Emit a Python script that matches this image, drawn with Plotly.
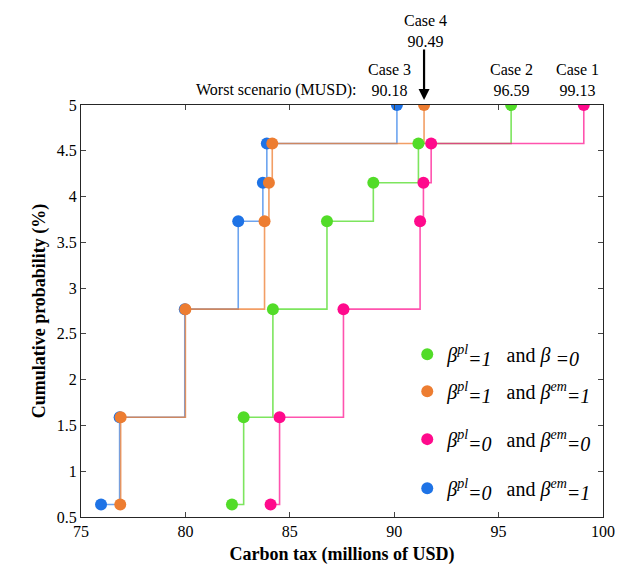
import plotly.graph_objects as go

# ---- data ----
cum_prob = [0.636, 1.59, 2.77, 3.73, 4.15, 4.58, 5.0]

case1_tax = [84.08, 84.51, 87.57, 91.24, 91.40, 91.77, 99.08]   # magenta
case2_tax = [82.23, 82.79, 84.19, 86.78, 89.00, 91.16, 95.60]   # green
case3_tax = [75.96, 76.85, 79.97, 82.53, 83.71, 83.90, 90.13]   # blue
case4_tax = [76.88, 76.90, 80.00, 83.79, 84.00, 84.16, 91.43]   # orange

case_names = ["Case 1", "Case 2", "Case 3", "Case 4"]
worst_labels = ["99.13", "96.59", "90.18", "90.49"]

x_ticks = [75, 80, 85, 90, 95, 100]
y_ticks = [0.5, 1, 1.5, 2, 2.5, 3, 3.5, 4, 4.5, 5]

FONT = "Liberation Serif, Times New Roman, serif"


def sub_full(t):
    return f'<sub><span style="font-size:20px"><i>{t}</i></span></sub>'


B = "<i>β</i>"
series = [
    # (x values, marker colour, line colour, legend label, legend id)
    (case3_tax, "#1E73E6", "rgba(30,115,230,0.65)",
     f"{B}<sup><i>pl</i></sup>{sub_full('=0')}   and {B}<sup><i>em</i></sup>{sub_full('=1')}", "legend4"),
    (case4_tax, "#ED7D31", "rgba(237,125,49,0.75)",
     f"{B}<sup><i>pl</i></sup>{sub_full('=1')}   and {B}<sup><i>em</i></sup>{sub_full('=1')}", "legend2"),
    (case2_tax, "#52DC28", "rgba(82,220,40,0.75)",
     f"{B}<sup><i>pl</i></sup>{sub_full('=1')}   and {B} {sub_full('=0')}", "legend"),
    (case1_tax, "#FF0A8C", "rgba(255,10,140,0.7)",
     f"{B}<sup><i>pl</i></sup>{sub_full('=0')}   and {B}<sup><i>em</i></sup>{sub_full('=0')}", "legend3"),
]

fig = go.Figure()
for xs, mcol, lcol, label, leg in series:
    fig.add_trace(go.Scatter(
        x=xs, y=cum_prob, mode="lines", line=dict(color=lcol, width=1.6, shape="hv"),
        showlegend=False, hoverinfo="skip"))
    fig.add_trace(go.Scatter(
        x=xs, y=cum_prob, mode="markers", marker=dict(color=mcol, size=12),
        name=label, legend=leg))

# ---- top annotations ----
ann = []
ann.append(dict(x=88.25, y=1.036, xref="x", yref="paper", text="Worst scenario (MUSD):",
                showarrow=False, xanchor="right", yanchor="middle",
                font=dict(family=FONT, size=16, color="black")))
ann_pos = {"Case 1": (98.8, 1.06), "Case 2": (95.6, 1.06),
           "Case 3": (89.76, 1.06), "Case 4": (91.48, 1.179)}
for name, val in zip(case_names, worst_labels):
    xp, yp = ann_pos[name]
    ann.append(dict(x=xp, y=yp, xref="x", yref="paper", text=f"{name}<br>{val}",
                    showarrow=False, xanchor="center", yanchor="middle",
                    font=dict(family=FONT, size=16, color="black")))
# arrow pointing to case 4 worst point
ann.append(dict(x=case4_tax[-1], y=1.012, xref="x", yref="paper", text="",
                showarrow=True, ax=0, ay=-52, arrowhead=2, arrowsize=1,
                arrowwidth=2.2, arrowcolor="black"))

leg_common = dict(x=0.625, xanchor="left", yanchor="middle",
                  bgcolor="rgba(0,0,0,0)", borderwidth=0,
                  font=dict(family=FONT, size=20, color="black"))
fig.update_layout(
    width=623, height=570,
    margin=dict(l=73, r=28, t=97, b=61),
    paper_bgcolor="white", plot_bgcolor="white",
    font=dict(family=FONT, size=16, color="black"),
    annotations=ann,
    legend=dict(y=0.395, **leg_common),
    legend2=dict(y=0.305, **leg_common),
    legend3=dict(y=0.189, **leg_common),
    legend4=dict(y=0.070, **leg_common),
)
fig.update_xaxes(range=[75, 100], tickvals=x_ticks, ticks="inside", ticklen=5,
                 showline=True, linecolor="#262626", linewidth=1, mirror="ticks",
                 showgrid=False, zeroline=False,
                 title=dict(text="<b>Carbon tax (millions of USD)</b>", standoff=8,
                            font=dict(family=FONT, size=18)))
fig.update_yaxes(range=[0.5, 5], tickvals=y_ticks, ticks="inside", ticklen=5,
                 showline=True, linecolor="#262626", linewidth=1, mirror="ticks",
                 showgrid=False, zeroline=False,
                 title=dict(text="<b>Cumulative probability (%)</b>", standoff=6,
                            font=dict(family=FONT, size=18)))

fig.write_html("out.html")
